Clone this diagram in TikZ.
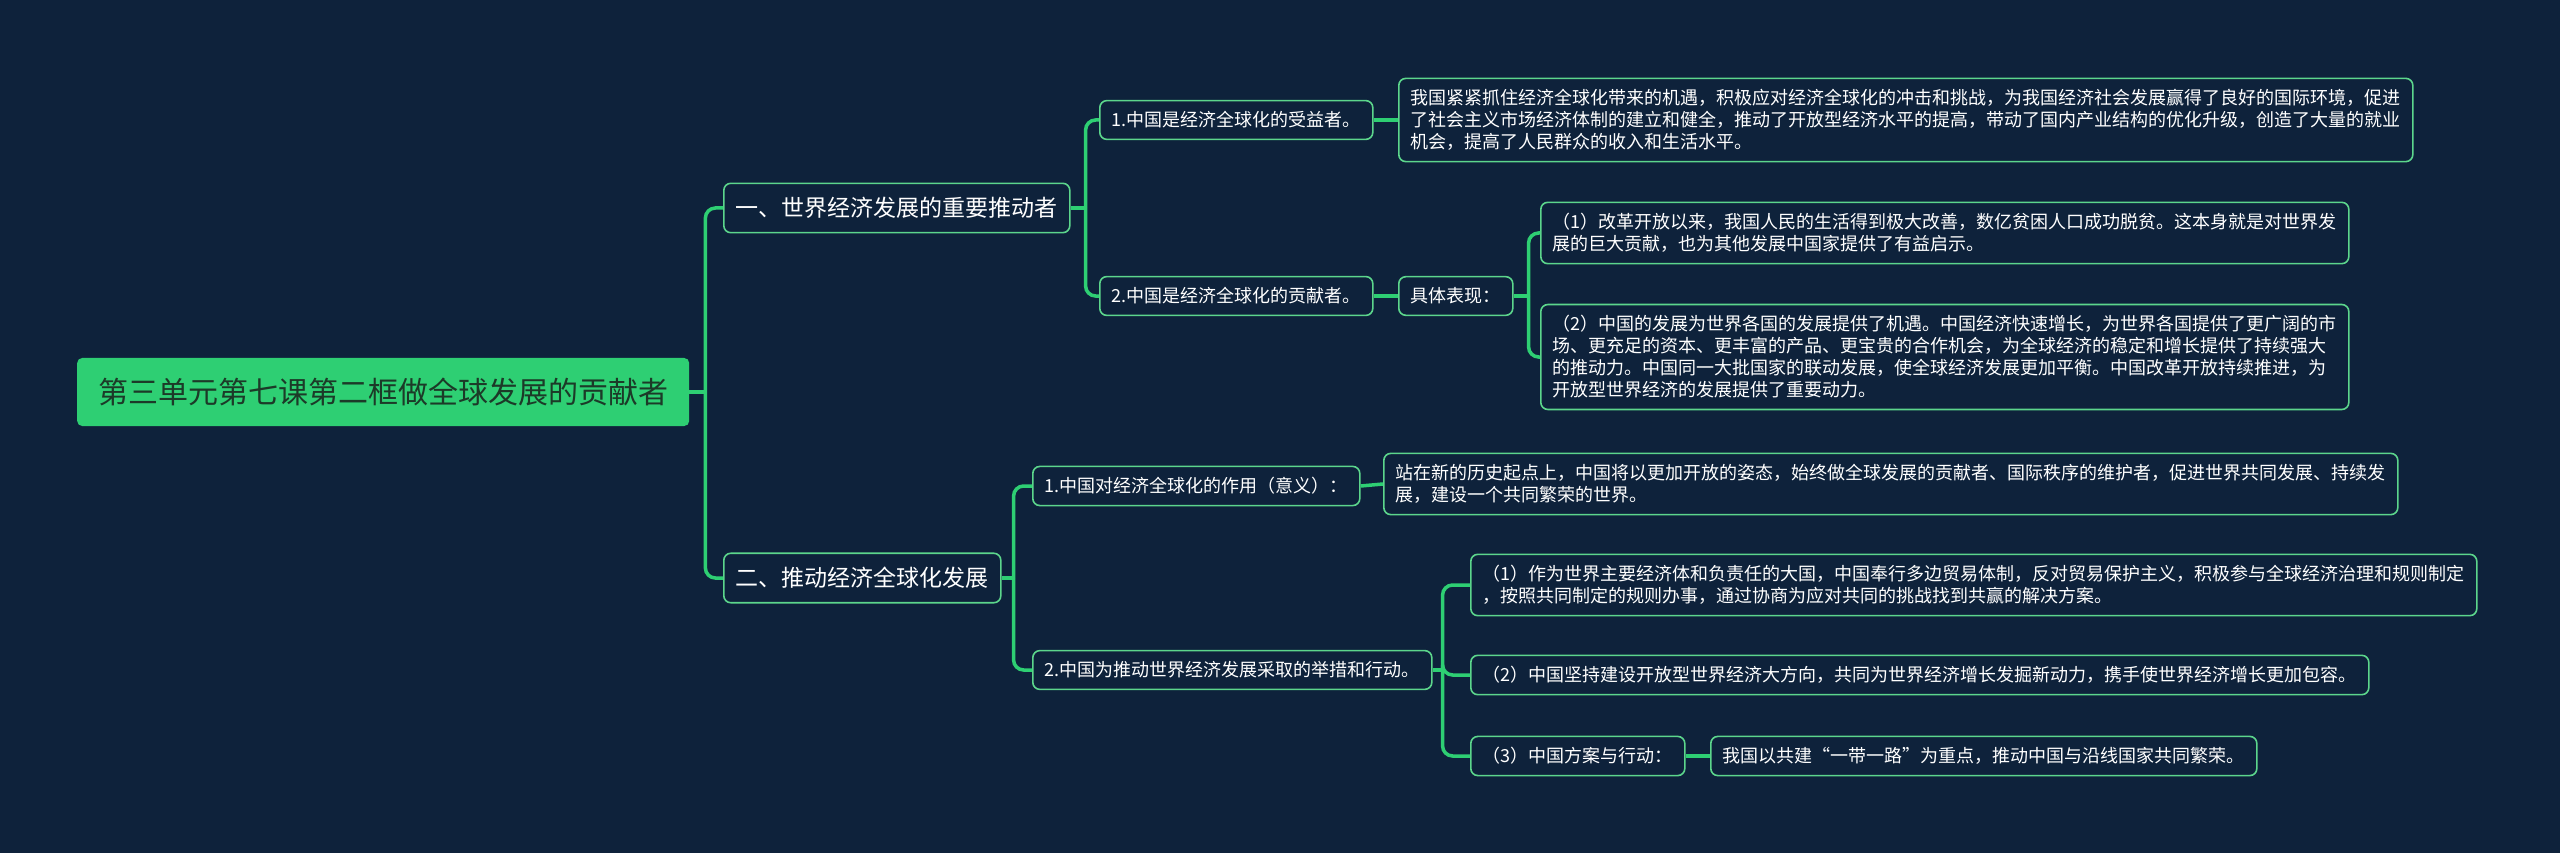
\documentclass[tikz,border=0pt]{standalone}
\usepackage{fontspec}
\setmainfont{Noto Sans CJK SC}
\usetikzlibrary{positioning}
\definecolor{mapbg}    {RGB}{14, 34, 59}
\definecolor{mapgreen} {RGB}{46,207,115}
\definecolor{rimgreen} {RGB}{92,214,140}
\definecolor{roottext} {RGB}{28, 58, 40}

\tikzset{
  rootbox/.style={fill=mapgreen,rounded corners=5pt,text=roottext,
    inner xsep=21pt,inner ysep=20pt,font=\fontsize{30}{36}\selectfont},
  topicbox/.style={draw=rimgreen,line width=1.6pt,fill=mapbg,rounded corners=7pt,
    text=white,inner xsep=12pt,inner ysep=14pt,font=\fontsize{23}{28}\selectfont},
  itembox/.style={draw=rimgreen,line width=1.6pt,fill=mapbg,rounded corners=7pt,
    text=white,inner xsep=12pt,inner ysep=11pt,align=left,
    font=\fontsize{18}{22}\selectfont},
  branch/.style={draw=mapgreen,line width=3.5pt,rounded corners=10pt},
}

\begin{document}
\begin{tikzpicture}[x=1pt,y=-1pt]
\fill[mapbg] (0,0) rectangle (2560,853);
\useasboundingbox (0,0) rectangle (2560,853);

% root and main topics
\node[rootbox,anchor=west] (root) at (77,392) {第三单元第七课第二框做全球发展的贡献者};
\node[topicbox,anchor=west] (drive) at (723,208) {一、世界经济发展的重要推动者};
\node[topicbox,anchor=west] (push) at (723,578) {二、推动经济全球化发展};

% first topic
\node[itembox,anchor=west] (gain) at (1099,120) {1.中国是经济全球化的受益者。};
\node[itembox,anchor=west] (give) at (1099,296) {2.中国是经济全球化的贡献者。};
\node[itembox,anchor=west] (gaintxt) at (1398,120) {我国紧紧抓住经济全球化带来的机遇，积极应对经济全球化的冲击和挑战，为我国经济社会发展赢得了良好的国际环境，促进\\了社会主义市场经济体制的建立和健全，推动了开放型经济水平的提高，带动了国内产业结构的优化升级，创造了大量的就业\\机会，提高了人民群众的收入和生活水平。};
\node[itembox,anchor=west] (show) at (1398,296) {具体表现：};
\node[itembox,anchor=west] (showa) at (1540,233) {（1）改革开放以来，我国人民的生活得到极大改善，数亿贫困人口成功脱贫。这本身就是对世界发\\展的巨大贡献，也为其他发展中国家提供了有益启示。};
\node[itembox,anchor=west] (showb) at (1540,357) {（2）中国的发展为世界各国的发展提供了机遇。中国经济快速增长，为世界各国提供了更广阔的市\\场、更充足的资本、更丰富的产品、更宝贵的合作机会，为全球经济的稳定和增长提供了持续强大\\的推动力。中国同一大批国家的联动发展，使全球经济发展更加平衡。中国改革开放持续推进，为\\开放型世界经济的发展提供了重要动力。};

% second topic
\node[itembox,anchor=west] (role) at (1032,486) {1.中国对经济全球化的作用（意义）：};
\node[itembox,anchor=west] (act) at (1032,670) {2.中国为推动世界经济发展采取的举措和行动。};
\node[itembox,anchor=west] (roletxt) at (1383,484) {站在新的历史起点上，中国将以更加开放的姿态，始终做全球发展的贡献者、国际秩序的维护者，促进世界共同发展、持续发\\展，建设一个共同繁荣的世界。};
\node[itembox,anchor=west] (acta) at (1470,585) {（1）作为世界主要经济体和负责任的大国，中国奉行多边贸易体制，反对贸易保护主义，积极参与全球经济治理和规则制定\\，按照共同制定的规则办事，通过协商为应对共同的挑战找到共赢的解决方案。};
\node[itembox,anchor=west] (actb) at (1470,675) {（2）中国坚持建设开放型世界经济大方向，共同为世界经济增长发掘新动力，携手使世界经济增长更加包容。};
\node[itembox,anchor=west] (actc) at (1470,756) {（3）中国方案与行动：};
\node[itembox,anchor=west] (actctxt) at (1710,756) {我国以共建“一带一路”为重点，推动中国与沿线国家共同繁荣。};

% connectors
\draw[branch] (root.east) -- ++(16,0) coordinate (j0);
\foreach \c in {drive,push} \draw[branch] (j0) |- (\c.west);
\draw[branch] (drive.east) -- ++(15,0) coordinate (j1);
\foreach \c in {gain,give} \draw[branch] (j1) |- (\c.west);
\draw[branch] (gain.east) -- (gaintxt.west);
\draw[branch] (give.east) -- (show.west);
\draw[branch] (show.east) -- ++(15,0) coordinate (j2);
\foreach \c in {showa,showb} \draw[branch] (j2) |- (\c.west);
\draw[branch] (push.east) -- ++(12,0) coordinate (j3);
\foreach \c in {role,act} \draw[branch] (j3) |- (\c.west);
\draw[branch] (role.east) -- (roletxt.west);
\draw[branch] (act.east) -- ++(10,0) coordinate (j4);
\foreach \c in {acta,actb,actc} \draw[branch] (j4) |- (\c.west);
\draw[branch] (actc.east) -- (actctxt.west);
\end{tikzpicture}
\end{document}
